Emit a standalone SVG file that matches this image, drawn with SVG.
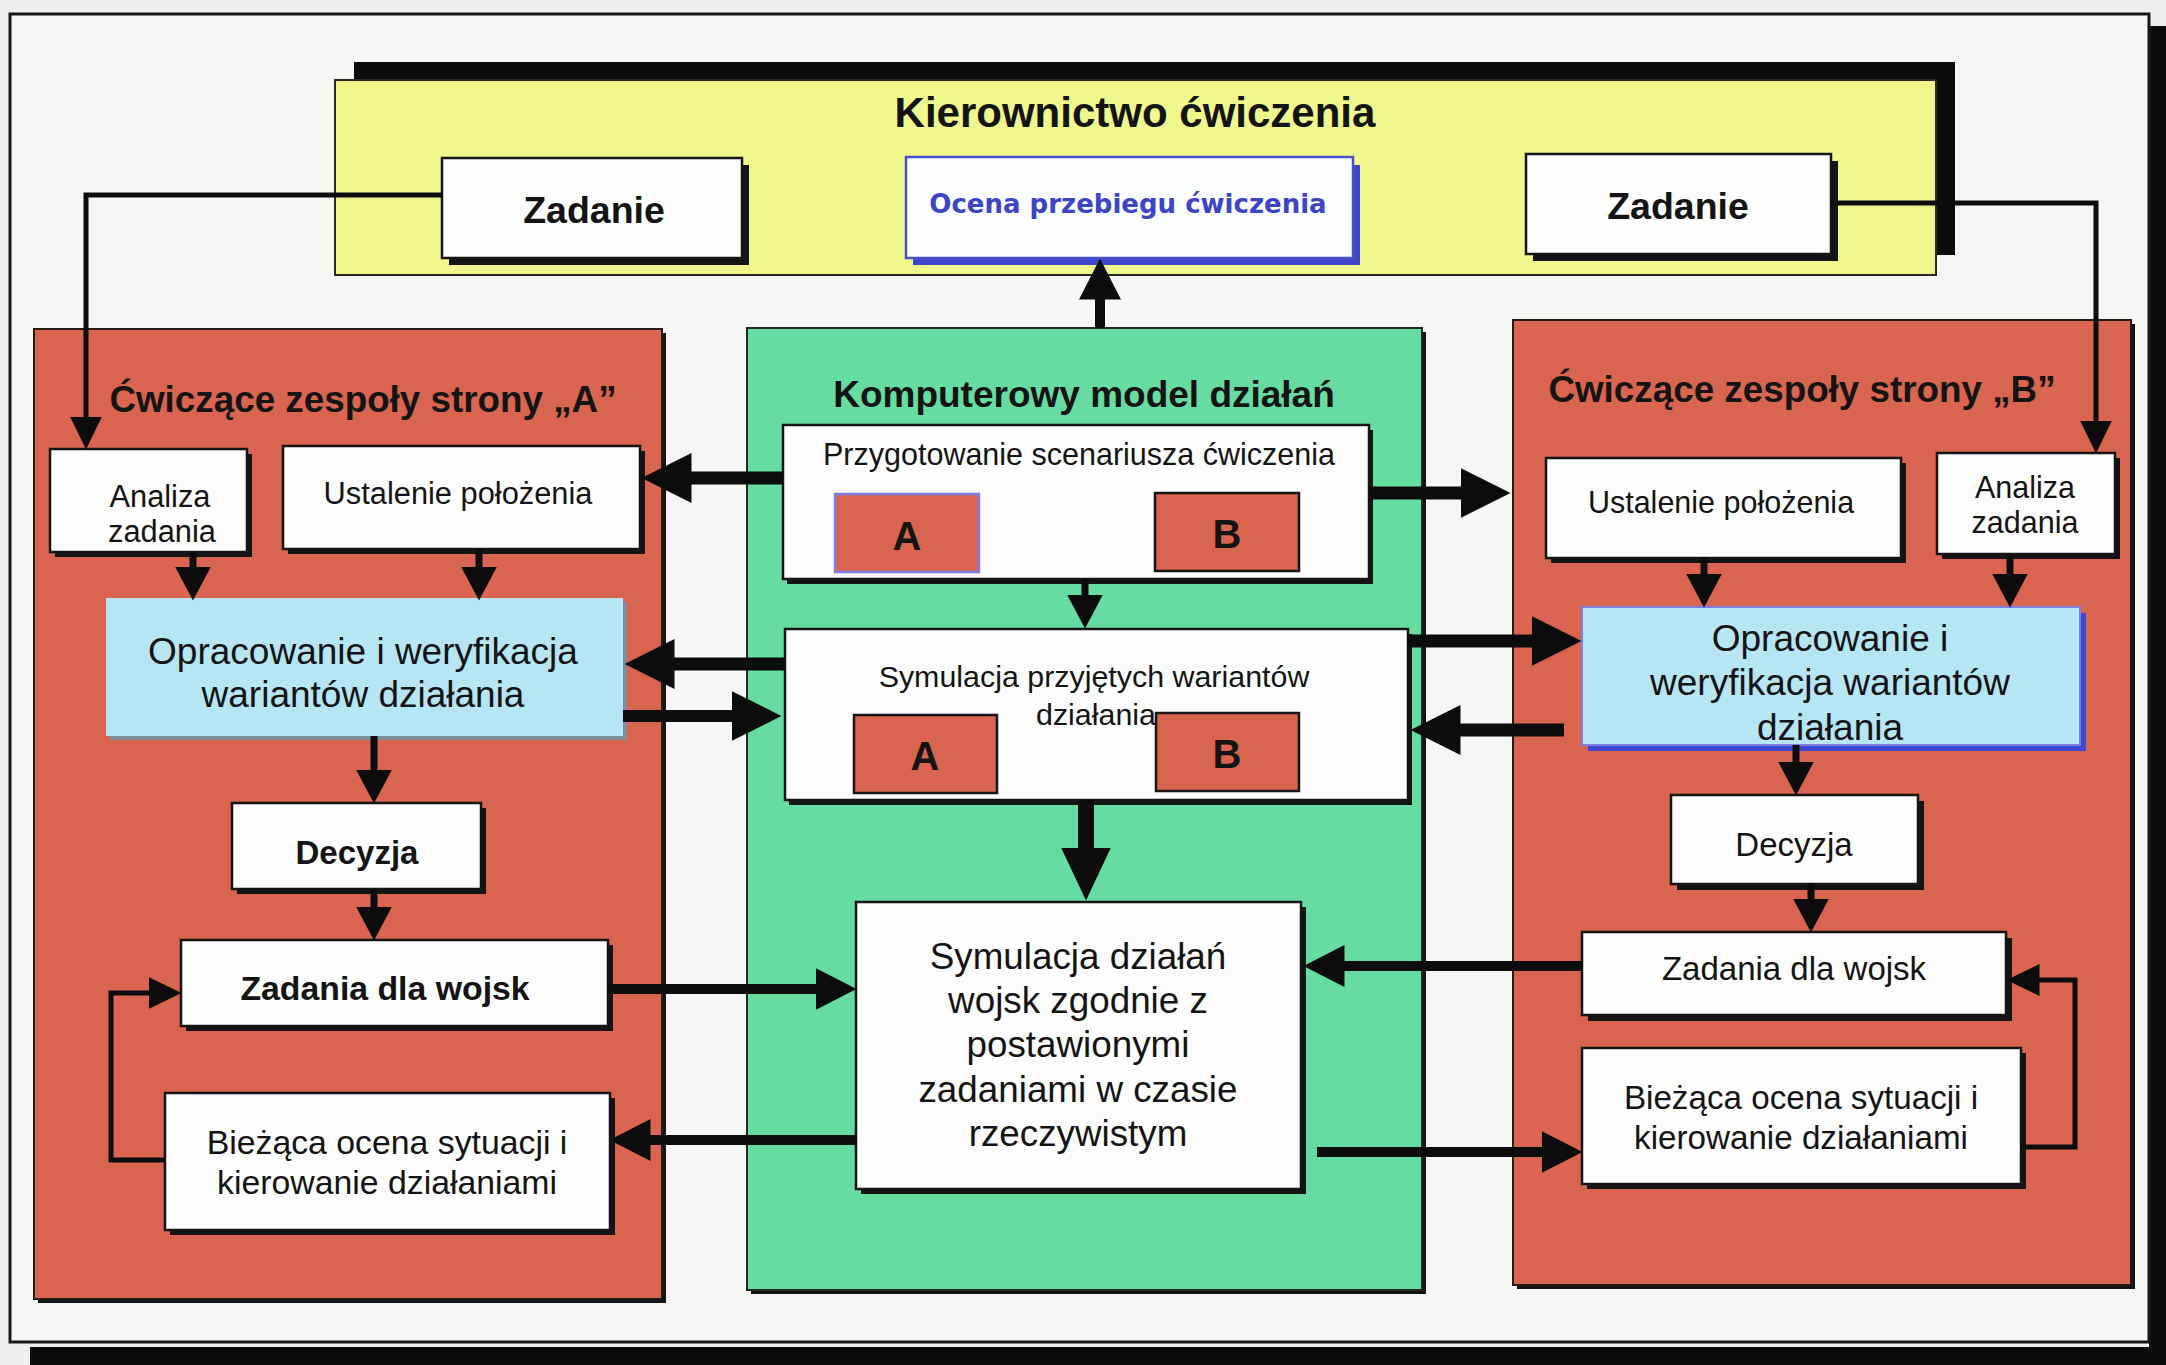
<svg xmlns="http://www.w3.org/2000/svg" width="2166" height="1365" viewBox="0 0 2166 1365">
  <defs>
    <style>
      text { font-family: "Liberation Sans", Arial, sans-serif; fill: #141414; text-anchor: middle; }
      .b { font-weight: bold; }
      .box { fill: #fbfcfb; stroke: #151515; stroke-width: 2.5; }
      .shd { fill: #141414; }
      .red { fill: #d9644f; stroke: #2a1a16; stroke-width: 2; }
      .grn { fill: #66dca0; stroke: #1d2a22; stroke-width: 2; }
      .blu { fill: #b6e5f4; }
      .tag { fill: #d9644f; stroke: #161616; stroke-width: 2.5; }
      .ln { fill: none; stroke: #0c0c0c; stroke-linejoin: miter; }
    </style>
    <marker id="ah-xl" markerUnits="userSpaceOnUse" markerWidth="53" markerHeight="50" viewBox="0 0 53 50" refX="0.5" refY="25" orient="auto">
      <path d="M0,0 L53,25 L0,50 Z" fill="#0c0c0c"/>
    </marker>
    <marker id="ah-lg" markerUnits="userSpaceOnUse" markerWidth="50" markerHeight="50" viewBox="0 0 50 50" refX="0.5" refY="25" orient="auto">
      <path d="M0,0 L50,25 L0,50 Z" fill="#0c0c0c"/>
    </marker>
    <marker id="ah-md" markerUnits="userSpaceOnUse" markerWidth="41" markerHeight="42" viewBox="0 0 41 42" refX="0.5" refY="21" orient="auto">
      <path d="M0,0 L41,21 L0,42 Z" fill="#0c0c0c"/>
    </marker>
    <marker id="ah-sm" markerUnits="userSpaceOnUse" markerWidth="34" markerHeight="36" viewBox="0 0 34 36" refX="0.5" refY="18" orient="auto">
      <path d="M0,0 L34,18 L0,36 Z" fill="#0c0c0c"/>
    </marker>
    <marker id="ah-xs" markerUnits="userSpaceOnUse" markerWidth="33" markerHeight="32" viewBox="0 0 33 32" refX="0.5" refY="16" orient="auto">
      <path d="M0,0 L33,16 L0,32 Z" fill="#0c0c0c"/>
    </marker>
  </defs>

  <!-- page and frame -->
  <rect x="0" y="0" width="2166" height="1365" fill="#eef0ee"/>
  <rect x="30" y="1347" width="2136" height="18" fill="#0b0b0b"/>
  <rect x="2149" y="26" width="17" height="1339" fill="#0b0b0b"/>
  <rect x="10" y="14" width="2139" height="1328" fill="#f6f7f5" stroke="#161616" stroke-width="3"/>

  <!-- management -->
  <g id="kierownictwo">
    <rect x="354" y="62" width="1601" height="193" fill="#0b0b0b"/>
    <rect x="335" y="80" width="1601" height="195" fill="#f0f88d" stroke="#2a2a20" stroke-width="2"/>
    <text x="1135" y="127" class="b" font-size="42">Kierownictwo ćwiczenia</text>
  </g>

  <g id="zadanie-a">
    <rect x="449" y="165" width="300" height="100" class="shd"/>
    <rect x="442" y="158" width="300" height="100" class="box"/>
    <text x="594" y="223" class="b" font-size="37.5">Zadanie</text>
  </g>

  <g id="ocena">
    <rect x="913" y="165" width="447" height="100" fill="#3f46cc"/>
    <rect x="906" y="157" width="447" height="101" fill="#fbfcfd" stroke="#4a50c8" stroke-width="2.5"/>
    <text x="1128" y="213" font-size="26" font-weight="bold" style="font-family:'DejaVu Sans',Verdana,sans-serif;fill:#3d45c4">Ocena przebiegu ćwiczenia</text>
  </g>

  <g id="zadanie-b">
    <rect x="1533" y="161" width="305" height="100" class="shd"/>
    <rect x="1526" y="154" width="305" height="100" class="box"/>
    <text x="1678" y="219" class="b" font-size="37.5">Zadanie</text>
  </g>

  <!-- side A -->
  <g id="strona-a">
    <rect x="38" y="333" width="628" height="970" class="shd"/>
    <rect x="34" y="329" width="628" height="970" class="red"/>
    <text x="363" y="412" class="b" font-size="36.8">Ćwiczące zespoły strony „A”</text>
  </g>

  <!-- model -->
  <g id="model">
    <rect x="751" y="332" width="675" height="962" class="shd"/>
    <rect x="747" y="328" width="675" height="962" class="grn"/>
    <text x="1084" y="407" class="b" font-size="37">Komputerowy model działań</text>
  </g>

  <!-- side B -->
  <g id="strona-b">
    <rect x="1517" y="324" width="618" height="965" class="shd"/>
    <rect x="1513" y="320" width="618" height="965" class="red"/>
    <text x="1802" y="402" class="b" font-size="36.8">Ćwiczące zespoły strony „B”</text>
  </g>

  <g id="analiza-a">
    <rect x="55" y="454" width="197" height="103" class="shd"/>
    <rect x="50" y="449" width="197" height="103" class="box"/>
    <text x="160" y="507" font-size="30.8">Analiza</text>
    <text x="162" y="542" font-size="30.8">zadania</text>
  </g>

  <g id="ustalenie-a">
    <rect x="288" y="451" width="357" height="103" class="shd"/>
    <rect x="283" y="446" width="357" height="103" class="box"/>
    <text x="458" y="504" font-size="30.8">Ustalenie położenia</text>
  </g>

  <g id="opracowanie-a">
    <rect x="110" y="602" width="517" height="138" fill="#7f8f9c"/>
    <rect x="106" y="598" width="517" height="138" class="blu"/>
    <text x="363" y="664" font-size="37">Opracowanie i weryfikacja</text>
    <text x="363" y="707" font-size="37">wariantów działania</text>
  </g>

  <g id="decyzja-a">
    <rect x="237" y="808" width="249" height="86" class="shd"/>
    <rect x="232" y="803" width="249" height="86" class="box"/>
    <text x="357" y="864" class="b" font-size="33">Decyzja</text>
  </g>

  <g id="zadania-a">
    <rect x="186" y="945" width="427" height="86" class="shd"/>
    <rect x="181" y="940" width="427" height="86" class="box"/>
    <text x="385" y="1000" class="b" font-size="33.8">Zadania dla wojsk</text>
  </g>

  <g id="ocena-sytuacji-a">
    <rect x="170" y="1098" width="445" height="137" class="shd"/>
    <rect x="165" y="1093" width="445" height="137" class="box"/>
    <text x="387" y="1154" font-size="33.8">Bieżąca ocena sytuacji i</text>
    <text x="387" y="1194" font-size="33.8">kierowanie działaniami</text>
  </g>

  <g id="przygotowanie">
    <rect x="787" y="430" width="586" height="154" class="shd"/>
    <rect x="783" y="425" width="586" height="154" class="box"/>
    <text x="1079" y="465" font-size="30.5">Przygotowanie scenariusza ćwiczenia</text>
    <rect x="835" y="494" width="144" height="78" fill="#d9644f" stroke="#7b7ee0" stroke-width="2.5"/>
    <text x="907" y="550" class="b" font-size="40">A</text>
    <rect x="1155" y="493" width="144" height="78" class="tag"/>
    <text x="1227" y="548" class="b" font-size="40">B</text>
  </g>

  <g id="symulacja-wariantow">
    <rect x="789" y="634" width="623" height="171" class="shd"/>
    <rect x="785" y="629" width="623" height="171" class="box"/>
    <text x="1094" y="687" font-size="30.4">Symulacja przyjętych wariantów</text>
    <text x="1096" y="725" font-size="30.4">działania</text>
    <rect x="854" y="715" width="143" height="78" class="tag"/>
    <text x="925" y="770" class="b" font-size="40">A</text>
    <rect x="1156" y="713" width="143" height="78" class="tag"/>
    <text x="1227" y="768" class="b" font-size="40">B</text>
  </g>

  <g id="symulacja-dzialan">
    <rect x="861" y="907" width="445" height="287" class="shd"/>
    <rect x="856" y="902" width="445" height="287" class="box"/>
    <text x="1078" y="969" font-size="36.8">Symulacja działań</text>
    <text x="1078" y="1013" font-size="36.8">wojsk zgodnie z</text>
    <text x="1078" y="1057" font-size="36.8">postawionymi</text>
    <text x="1078" y="1102" font-size="36.8">zadaniami w czasie</text>
    <text x="1078" y="1146" font-size="36.8">rzeczywistym</text>
  </g>

  <g id="ustalenie-b">
    <rect x="1551" y="463" width="355" height="100" class="shd"/>
    <rect x="1546" y="458" width="355" height="100" class="box"/>
    <text x="1721" y="513" font-size="30.5">Ustalenie położenia</text>
  </g>

  <g id="analiza-b">
    <rect x="1942" y="458" width="178" height="101" class="shd"/>
    <rect x="1937" y="453" width="178" height="101" class="box"/>
    <text x="2025" y="498" font-size="30.5">Analiza</text>
    <text x="2025" y="533" font-size="30.5">zadania</text>
  </g>

  <g id="opracowanie-b">
    <rect x="1588" y="613" width="498" height="138" fill="#3f46d0"/>
    <rect x="1582" y="607" width="498" height="138" class="blu" stroke="#7b80e2" stroke-width="2"/>
    <text x="1830" y="651" font-size="37">Opracowanie i</text>
    <text x="1830" y="695" font-size="37">weryfikacja wariantów</text>
    <text x="1830" y="740" font-size="37">działania</text>
  </g>

  <g id="decyzja-b">
    <rect x="1677" y="801" width="247" height="89" class="shd"/>
    <rect x="1671" y="795" width="247" height="89" class="box"/>
    <text x="1794" y="856" font-size="33">Decyzja</text>
  </g>

  <g id="zadania-b">
    <rect x="1588" y="938" width="424" height="83" class="shd"/>
    <rect x="1582" y="932" width="424" height="83" class="box"/>
    <text x="1794" y="980" font-size="33">Zadania dla wojsk</text>
  </g>

  <g id="ocena-sytuacji-b">
    <rect x="1587" y="1053" width="439" height="136" class="shd"/>
    <rect x="1582" y="1048" width="439" height="136" class="box"/>
    <text x="1801" y="1109" font-size="33.2">Bieżąca ocena sytuacji i</text>
    <text x="1801" y="1149" font-size="33.2">kierowanie działaniami</text>
  </g>

  <!-- connectors -->
  <g id="connectors" class="ln">
    <polyline points="442,195 86,195 86,417" stroke-width="5" marker-end="url(#ah-xs)"/>
    <polyline points="1831,203 2096,203 2096,421" stroke-width="5" marker-end="url(#ah-xs)"/>
    <line x1="1100" y1="328" x2="1100" y2="299" stroke-width="10" marker-end="url(#ah-md)"/>

    <line x1="783" y1="478" x2="691" y2="478" stroke-width="13" marker-end="url(#ah-lg)"/>
    <line x1="1369" y1="493" x2="1461" y2="493" stroke-width="13" marker-end="url(#ah-lg)"/>
    <line x1="1085" y1="579" x2="1085" y2="595" stroke-width="7" marker-end="url(#ah-sm)"/>

    <line x1="785" y1="664" x2="674" y2="664" stroke-width="13" marker-end="url(#ah-lg)"/>
    <line x1="623" y1="716" x2="732" y2="716" stroke-width="12" marker-end="url(#ah-lg)"/>
    <line x1="1408" y1="641" x2="1532" y2="641" stroke-width="13" marker-end="url(#ah-lg)"/>
    <line x1="1564" y1="730" x2="1460" y2="730" stroke-width="13" marker-end="url(#ah-lg)"/>

    <line x1="193" y1="552" x2="193" y2="567" stroke-width="7" marker-end="url(#ah-sm)"/>
    <line x1="479" y1="549" x2="479" y2="567" stroke-width="7" marker-end="url(#ah-sm)"/>
    <line x1="374" y1="736" x2="374" y2="770" stroke-width="7" marker-end="url(#ah-sm)"/>
    <line x1="374" y1="889" x2="374" y2="907" stroke-width="7" marker-end="url(#ah-sm)"/>
    <line x1="608" y1="989" x2="816" y2="989" stroke-width="10" marker-end="url(#ah-md)"/>
    <line x1="856" y1="1140" x2="650" y2="1140" stroke-width="10" marker-end="url(#ah-md)"/>
    <polyline points="165,1160 111,1160 111,993 149,993" stroke-width="5" marker-end="url(#ah-xs)"/>

    <line x1="1086" y1="800" x2="1086" y2="848" stroke-width="16" marker-end="url(#ah-xl)"/>

    <line x1="1704" y1="558" x2="1704" y2="574" stroke-width="7" marker-end="url(#ah-sm)"/>
    <line x1="2010" y1="554" x2="2010" y2="574" stroke-width="7" marker-end="url(#ah-sm)"/>
    <line x1="1796" y1="745" x2="1796" y2="762" stroke-width="7" marker-end="url(#ah-sm)"/>
    <line x1="1811" y1="884" x2="1811" y2="899" stroke-width="7" marker-end="url(#ah-sm)"/>
    <line x1="1582" y1="966" x2="1344" y2="966" stroke-width="10" marker-end="url(#ah-md)"/>
    <line x1="1317" y1="1152" x2="1542" y2="1152" stroke-width="10" marker-end="url(#ah-md)"/>
    <polyline points="2021,1147 2075,1147 2075,980 2039,980" stroke-width="5" marker-end="url(#ah-xs)"/>
  </g>
</svg>
